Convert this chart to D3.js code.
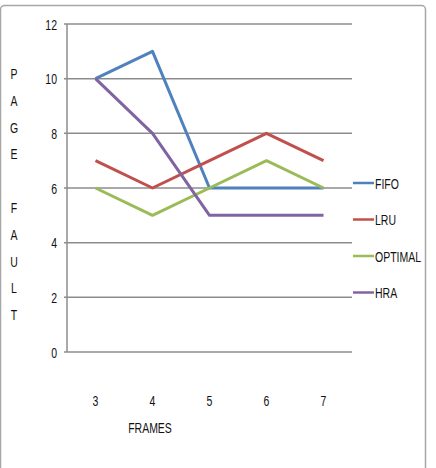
<!DOCTYPE html>
<html>
<head>
<meta charset="utf-8">
<script src="https://cdn.jsdelivr.net/npm/d3@7"></script>
<style>
  body { margin: 0; background: #fff; }
  text { font-family: "Liberation Sans", Arial, sans-serif; fill: #111; font-size: 15px; }
</style>
</head>
<body>
<svg id="chart" width="436" height="468"></svg>
<script>
// data
const frames = ['3', '4', '5', '6', '7'];
const fifo = [10, 11, 6, 6, 6];
const lru = [7, 6, 7, 8, 7];
const optimal = [6, 5, 6, 7, 6];
const hra = [10, 8, 5, 5, 5];
const seriesNames = ['FIFO', 'LRU', 'OPTIMAL', 'HRA'];
const yTicks = [0, 2, 4, 6, 8, 10, 12];
const yTitle = ['P', 'A', 'G', 'E', '', 'F', 'A', 'U', 'L', 'T'];

const colors = ['#4f81bd', '#c0504d', '#9bbb59', '#8064a2'];
const series = [fifo, lru, optimal, hra];

const narrow = 0.7; // squeeze text to look like the condensed office font

const svg = d3.select('#chart');

// outer frame
svg.append('rect')
    .attr('x', 0.5).attr('y', 5.5)
    .attr('width', 425).attr('height', 470)
    .attr('rx', 4)
    .attr('fill', 'none')
    .attr('stroke', '#a6a6a6')
    .attr('stroke-width', 1.5);

const plot = { left: 67, right: 352, top: 24, bottom: 352 };

const x = d3.scaleBand().domain(frames).range([plot.left, plot.right]);
const y = d3.scaleLinear().domain([0, 12]).range([plot.bottom, plot.top]);

// gridlines
svg.append('g')
    .selectAll('line')
    .data(yTicks)
    .join('line')
    .attr('x1', plot.left - 3).attr('x2', plot.right)
    .attr('y1', d => y(d)).attr('y2', d => y(d))
    .attr('stroke', '#8c8c8c')
    .attr('stroke-width', 1.5);

// vertical axis line
svg.append('line')
    .attr('x1', plot.left).attr('x2', plot.left)
    .attr('y1', plot.top).attr('y2', plot.bottom)
    .attr('stroke', '#8c8c8c')
    .attr('stroke-width', 1.5);

// y tick labels
svg.append('g')
    .selectAll('text')
    .data(yTicks)
    .join('text')
    .attr('transform', d => `translate(57, ${y(d) + 5.5}) scale(${narrow}, 1)`)
    .attr('text-anchor', 'end')
    .text(d => d);

// x tick labels
svg.append('g')
    .selectAll('text')
    .data(frames)
    .join('text')
    .attr('transform', d => `translate(${x(d) + x.bandwidth() / 2}, 406) scale(${narrow}, 1)`)
    .attr('text-anchor', 'middle')
    .text(d => d);

// axis titles
svg.append('text')
    .attr('transform', `translate(150, 433) scale(${narrow}, 1)`)
    .attr('text-anchor', 'middle')
    .text('FRAMES');

svg.append('g')
    .selectAll('text')
    .data(yTitle)
    .join('text')
    .attr('transform', (d, i) => `translate(14, ${79 + i * 26.8}) scale(${narrow}, 1)`)
    .attr('text-anchor', 'middle')
    .text(d => d);

// lines
const line = d3.line()
    .x((d, i) => x(frames[i]) + x.bandwidth() / 2)
    .y(d => y(d));

svg.append('g')
    .selectAll('path')
    .data(series)
    .join('path')
    .attr('d', d => line(d))
    .attr('fill', 'none')
    .attr('stroke', (d, i) => colors[i])
    .attr('stroke-width', 3)
    .attr('stroke-linejoin', 'round');

// legend
const legend = svg.append('g')
    .selectAll('g')
    .data(seriesNames)
    .join('g')
    .attr('transform', (d, i) => `translate(353, ${183 + i * 36.5})`);

legend.append('line')
    .attr('x1', 0).attr('x2', 21)
    .attr('stroke', (d, i) => colors[i])
    .attr('stroke-width', 2.5);

legend.append('text')
    .attr('transform', `translate(22, 5.5) scale(${narrow}, 1)`)
    .text(d => d);
</script>
</body>
</html>
